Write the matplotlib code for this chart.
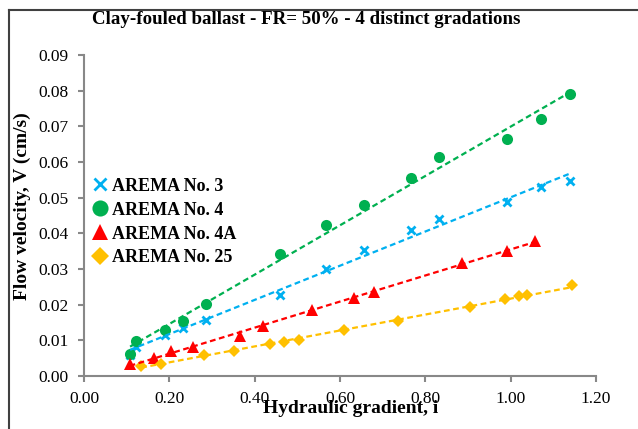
import numpy as np
import matplotlib
matplotlib.use("Agg")
import matplotlib.pyplot as plt
from matplotlib.lines import Line2D

# ---- data ----
x_no3 = [0.108, 0.122, 0.189, 0.232, 0.287, 0.459, 0.567, 0.656, 0.767, 0.833, 0.991, 1.071, 1.138]
v_no3 = [0.0058, 0.0080, 0.0115, 0.0134, 0.0156, 0.0228, 0.0301, 0.0354, 0.0409, 0.0440, 0.0487, 0.0529, 0.0547]

x_no4 = [0.108, 0.122, 0.189, 0.232, 0.287, 0.459, 0.567, 0.656, 0.767, 0.833, 0.991, 1.071, 1.138]
v_no4 = [0.0062, 0.0097, 0.0129, 0.0153, 0.0202, 0.0341, 0.0422, 0.0479, 0.0554, 0.0615, 0.0664, 0.0721, 0.0791]

x_no4a = [0.107, 0.163, 0.205, 0.256, 0.365, 0.420, 0.535, 0.632, 0.679, 0.887, 0.991, 1.057]
v_no4a = [0.0034, 0.0050, 0.0069, 0.0082, 0.0111, 0.0141, 0.0186, 0.0219, 0.0235, 0.0317, 0.0351, 0.0379]

x_no25 = [0.134, 0.181, 0.281, 0.351, 0.436, 0.469, 0.503, 0.610, 0.737, 0.904, 0.987, 1.020, 1.038, 1.144]
v_no25 = [0.0029, 0.0035, 0.0060, 0.0071, 0.0090, 0.0094, 0.0101, 0.0130, 0.0154, 0.0193, 0.0215, 0.0223, 0.0226, 0.0254]

labels = ["AREMA No. 3", "AREMA No. 4", "AREMA No. 4A", "AREMA No. 25"]
colors = ["#00B0F0", "#00B050", "#FF0000", "#FFC000"]
markers = ["x", "o", "^", "D"]
msizes = [6, 8, 8, 6.5]

title = "Clay-fouled ballast - FR= 50% - 4 distinct gradations"
xlabel = "Hydraulic gradient, i"
ylabel = "Flow velocity, V (cm/s)"
xticks = [0.0, 0.2, 0.4, 0.6, 0.8, 1.0, 1.2]
yticks = [0.0, 0.01, 0.02, 0.03, 0.04, 0.05, 0.06, 0.07, 0.08, 0.09]

plt.rcParams['font.family'] = ['Liberation Serif', 'DejaVu Serif']

fig = plt.figure(figsize=(6.38, 4.29), dpi=100)
ax = fig.add_axes([84/638, 1-376/429, 512/638, 321/429])

series = [(x_no3, v_no3), (x_no4, v_no4), (x_no4a, v_no4a), (x_no25, v_no25)]
handles = []
for (xs, vs), lab, c, m, ms in zip(series, labels, colors, markers, msizes):
    xs = np.array(xs); vs = np.array(vs)
    mew = 2.0 if m == "x" else 0
    ax.plot(xs, vs, linestyle='none', marker=m, color=c, markersize=ms,
            markeredgewidth=mew, zorder=3)
    k, b = np.polyfit(xs, vs, 1)
    xx = np.array([xs.min(), xs.max()])
    ax.plot(xx, k*xx + b, color=c, lw=1.6, linestyle=(0, (2.6, 1.6)), zorder=4)
    handles.append(Line2D([], [], linestyle='none', marker=m, color=c,
                          markersize=ms*1.45, markeredgewidth=(2.0 if m == "x" else 0)))

ax.set_xlim(0, 1.2)
ax.set_ylim(0, 0.09)
ax.set_xticks(xticks)
ax.set_yticks(yticks)
ax.set_xticklabels([f"{t:.2f}" for t in xticks])
ax.set_yticklabels([f"{t:.2f}" for t in yticks])
for s in ['top', 'right']:
    ax.spines[s].set_visible(False)
for s in ['left', 'bottom']:
    ax.spines[s].set_color('#888888')
    ax.spines[s].set_linewidth(1.5)
ax.tick_params(axis='both', direction='out', length=4, width=1.5, color='#888888',
               labelsize=12.5, labelcolor='black', pad=7)

ax.set_xlabel(xlabel, fontsize=14, fontweight='bold')
ax.xaxis.set_label_coords(0.52, -0.075)
ax.set_ylabel(ylabel, fontsize=14, fontweight='bold')
ax.yaxis.set_label_coords(-0.103, 0.53)

fig.text(306/638, 1-20/429, title, ha='center', va='center', fontsize=13.6, fontweight='bold')

leg = ax.legend(handles, labels, loc='upper left', bbox_to_anchor=(0.0, 0.64),
                frameon=False, handlelength=1.0, handletextpad=0.15, labelspacing=0.38,
                borderaxespad=0, prop={'weight': 'bold', 'size': 13})

# outer frame lines (top and left)
fig.add_artist(Line2D([8.5/638, 1.0], [1-9.5/429, 1-9.5/429], transform=fig.transFigure,
                      color='#404040', lw=1.5))
fig.add_artist(Line2D([8.5/638, 8.5/638], [0.0, 1-9.5/429], transform=fig.transFigure,
                      color='#404040', lw=1.5))

fig.savefig("out.png", dpi=100)
